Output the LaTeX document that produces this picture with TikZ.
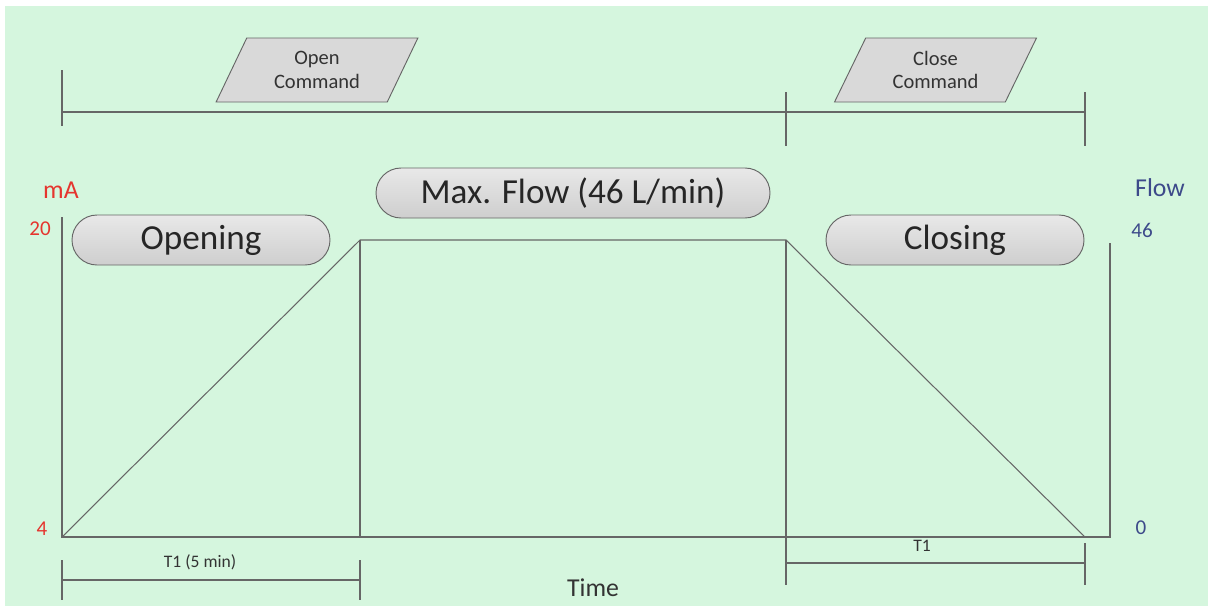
\documentclass[tikz,border=0pt]{standalone}
\usepackage{fontspec}
\setmainfont{Carlito}
\usetikzlibrary{shapes.geometric,shapes.misc}
\definecolor{bgg}{HTML}{D5F6DE}
\definecolor{ln}{HTML}{666666}
\definecolor{redl}{HTML}{E5352E}
\definecolor{bluel}{HTML}{3D4A8A}
\definecolor{boxfill}{HTML}{D9D9D9}
\tikzset{
  axisline/.style={draw=ln, line width=1.1pt},
  thinline/.style={draw=ln, line width=0.9pt},
  pill/.style={rounded rectangle, draw=ln, line width=0.8pt, top color=boxfill!60!white, bottom color=boxfill!95!black,
    minimum height=50*0.03cm, inner sep=0pt, font=\fontsize{30}{36}\selectfont, text=black!85},
  cmdbox/.style={trapezium, trapezium left angle=63.4, trapezium right angle=116.6, trapezium stretches=true,
    draw=ln, line width=0.8pt, fill=boxfill, minimum width=202*0.03cm, minimum height=64*0.03cm,
    inner sep=0pt, align=center, font=\fontsize{17.5}{20.4}\selectfont, text=black!80},
  redlbl/.style={text=redl, inner sep=0pt},
  bluelbl/.style={text=bluel, inner sep=0pt},
  dimlbl/.style={text=black!80, inner sep=0pt, font=\fontsize{15}{18}\selectfont},
}
\begin{document}
\begin{tikzpicture}[x=0.03cm, y=-0.03cm]
\useasboundingbox (0,0) rectangle (1208,612);
\fill[white] (0,0) rectangle (1208,612);
\fill[bgg] (5,6) rectangle (1208,606);

% top timeline
\coordinate (tlA) at (62,112);
\coordinate (tlB) at (786,112);
\coordinate (tlC) at (1085,112);
\draw[thinline] (tlA) -- (tlC);
\draw[thinline] (62,70) coordinate (tA1) -- (62,126) coordinate (tA2);
\draw[thinline] (786,92) coordinate (tB1) -- (786,146) coordinate (tB2);
\draw[thinline] (1085,92) coordinate (tC1) -- (1085,146) coordinate (tC2);

\node[cmdbox] (open) at (317,70) {Open\\Command};
\node[cmdbox] (close) at (935.5,70) {Close\\Command};

% axes
\coordinate (o) at (62,537);
\coordinate (ytop) at (62,217);
\coordinate (xend) at (1110,537);
\coordinate (rtop) at (1110,243);
\draw[axisline] (ytop) -- (o) -- (xend) -- (rtop);

% trapezoid
\coordinate (p1) at (360,240);
\coordinate (p2) at (786,240);
\coordinate (p3) at (1085,537);
\coordinate (p1b) at (360,537);
\coordinate (p2b) at (786,585);
\draw[thinline] (o) -- (p1) -- (p2) -- (p3);
\draw[thinline] (p1) -- (p1b);
\draw[thinline] (p2) -- (p2b);

% pills
\node[pill, minimum width=258*0.03cm] (opening) at (201,240) {\raisebox{-2pt}{Opening}};
\node[pill, minimum width=394*0.03cm] (maxflow) at (573,193) {\raisebox{-2pt}{Max. Flow (46 L/min)}};
\node[pill, minimum width=258*0.03cm] (closing) at (955,240) {\raisebox{-2pt}{Closing}};

% axis labels
\node[redlbl, font=\fontsize{22}{26}\selectfont] (ma) at (61,190) {mA};
\node[redlbl, font=\fontsize{18}{22}\selectfont] (v20) at (40,229) {20};
\node[redlbl, font=\fontsize{18}{22}\selectfont] (v4) at (42,529) {4};
\node[bluelbl, font=\fontsize{22}{26}\selectfont] (flow) at (1160,188) {Flow};
\node[bluelbl, font=\fontsize{18}{22}\selectfont] (v46) at (1142,230) {46};
\node[bluelbl, font=\fontsize{18}{22}\selectfont] (v0) at (1141,528) {0};
\node[text=black!80, inner sep=0pt, font=\fontsize{22}{26}\selectfont] (time) at (593,588) {Time};

% bottom dimensions
\coordinate (d1a) at (62,580);
\coordinate (d1b) at (360,580);
\draw[thinline] (d1a) -- (d1b);
\draw[thinline] (62,560) -- (62,600);
\draw[thinline] (360,560) -- (360,600);
\node[dimlbl] (t1a) at (200,562) {T1 (5 min)};

\coordinate (d2a) at (786,563);
\coordinate (d2b) at (1085,563);
\draw[thinline] (d2a) -- (d2b);
\draw[thinline] (1085,543) -- (1085,585);
\node[dimlbl] (t1b) at (922,546) {T1};
\end{tikzpicture}
\end{document}
